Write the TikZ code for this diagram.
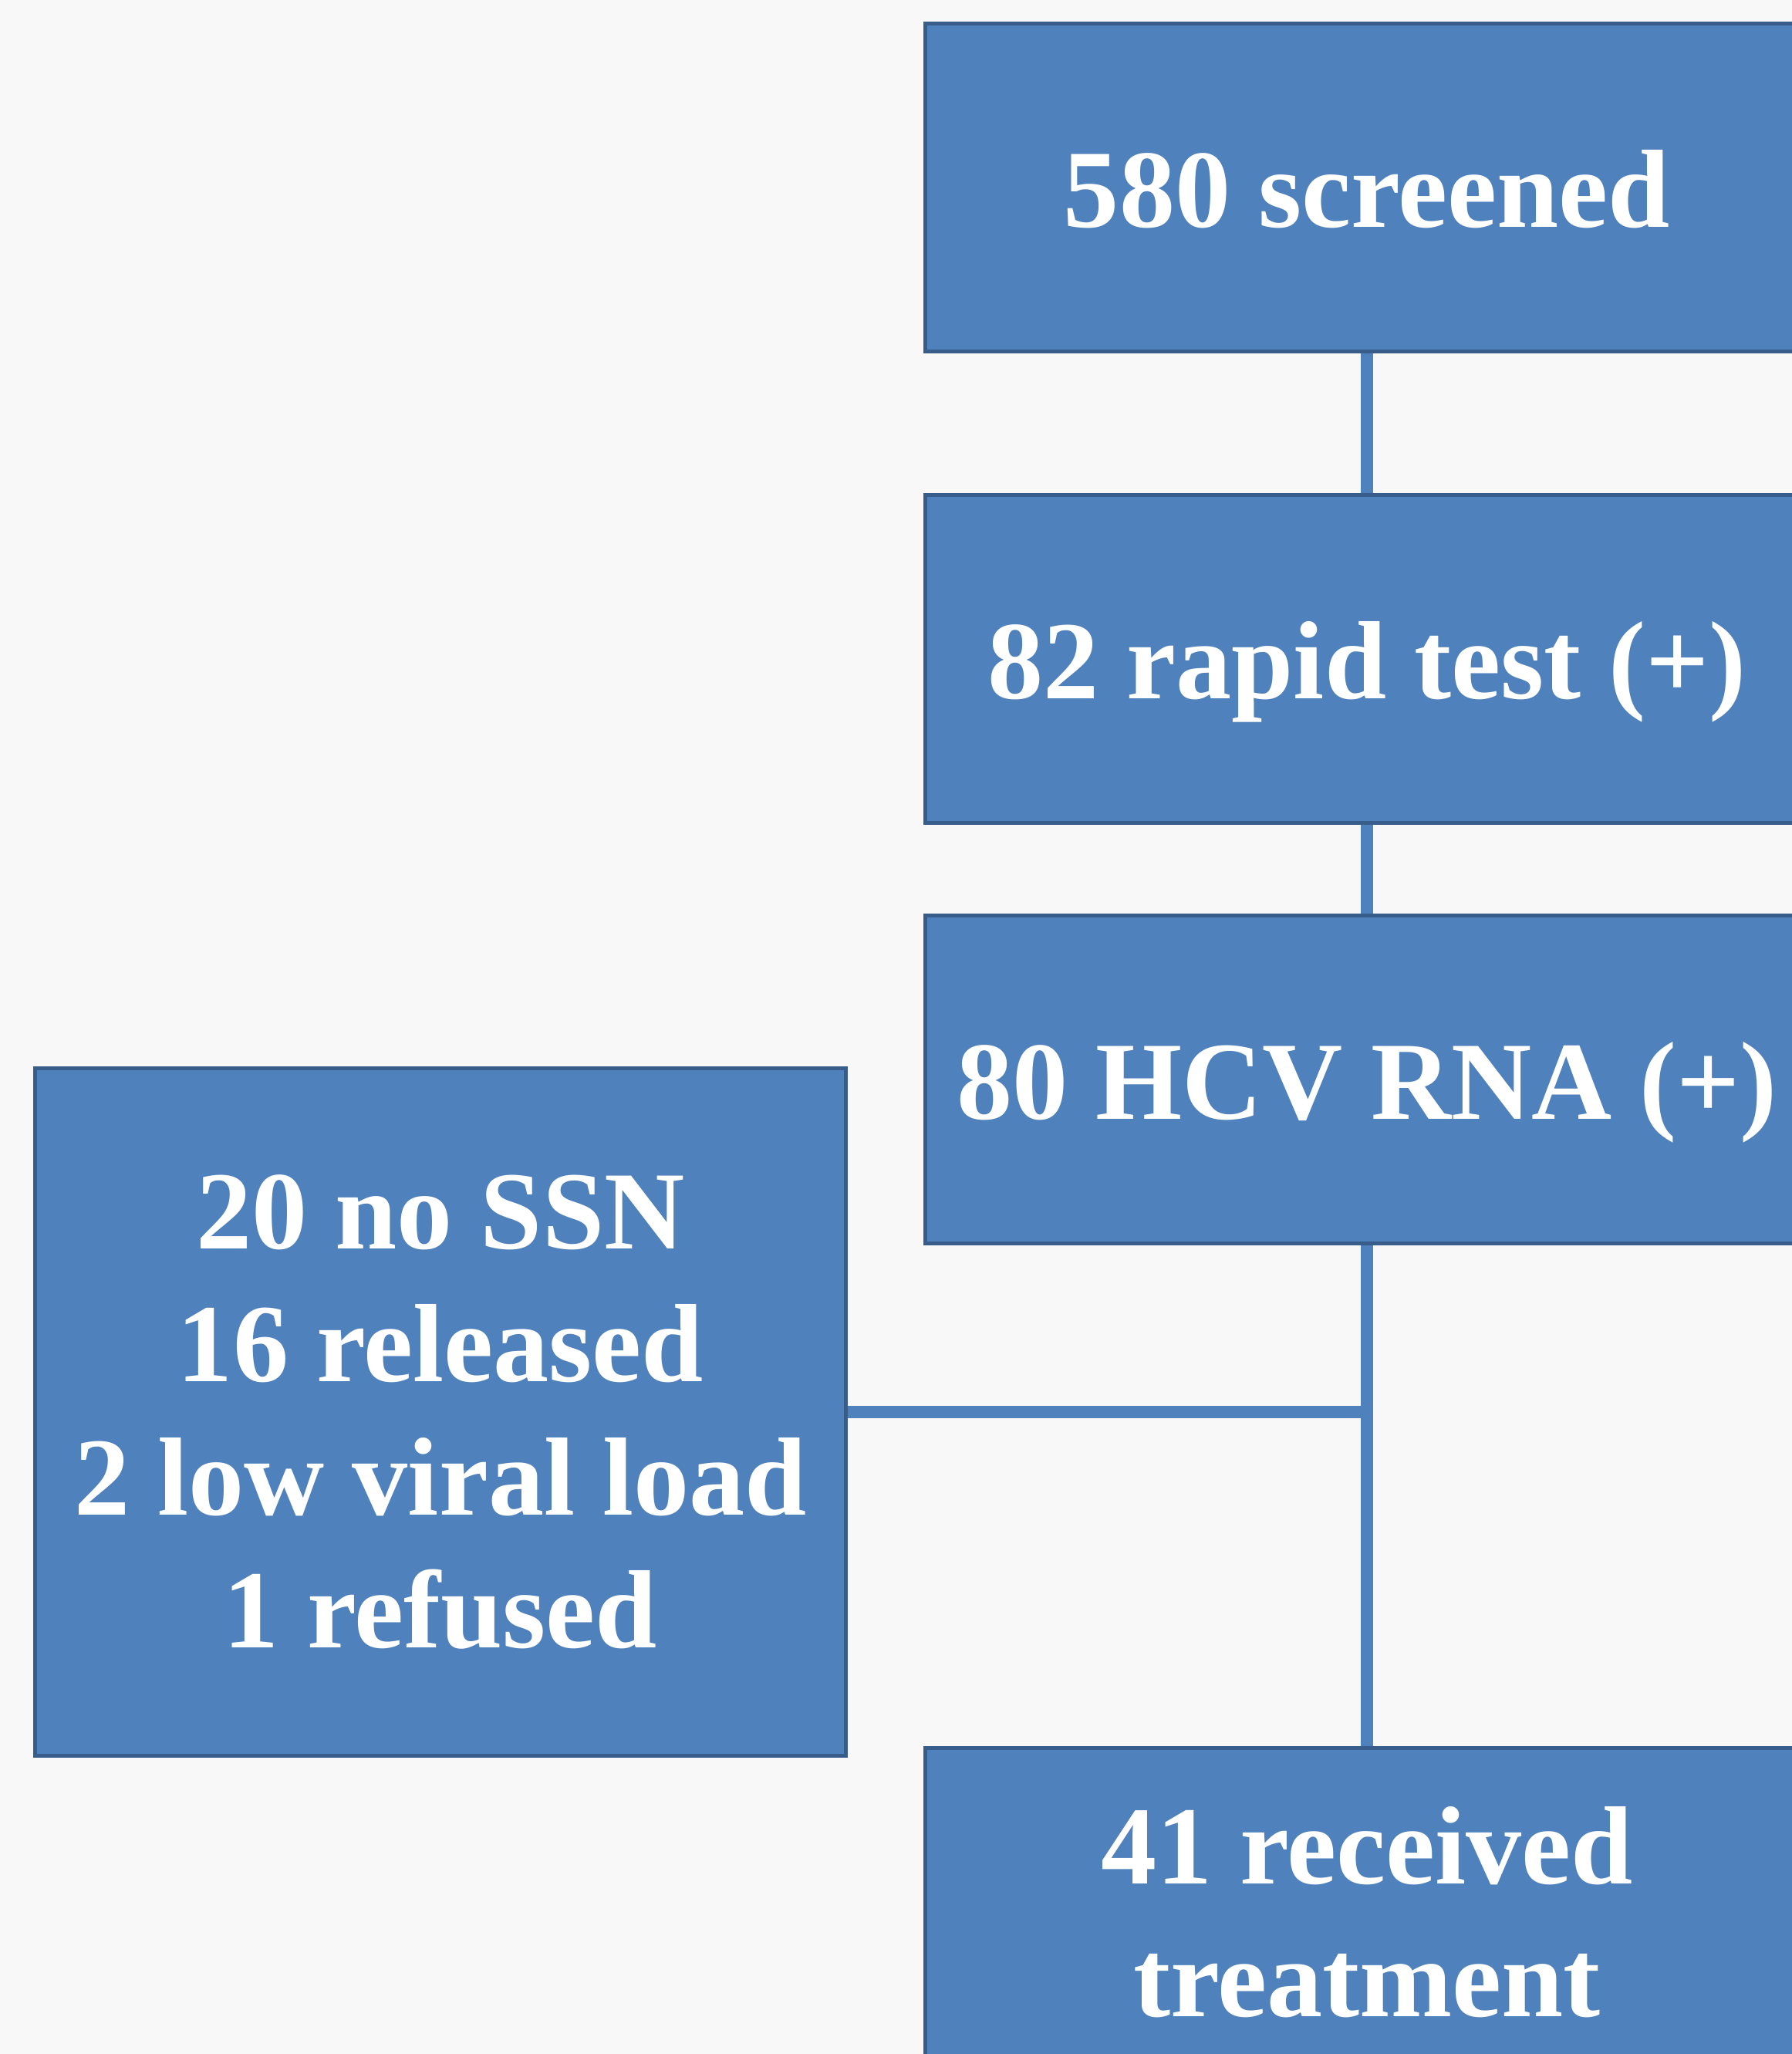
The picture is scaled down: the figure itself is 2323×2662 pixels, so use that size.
\documentclass[tikz,border=0pt]{standalone}
\usepackage{fontspec}
\setmainfont{Liberation Serif}
\definecolor{boxblue}{HTML}{4F81BD}
\definecolor{boxedge}{HTML}{385D8A}
\definecolor{pagebg}{HTML}{F8F8F8}
\begin{document}
\begin{tikzpicture}
                [x=0.01cm, y=-0.01cm,
                box/.style={rectangle, draw=boxedge, fill=boxblue, line width=1.4pt, text=white, font=\fontsize{41}{49}\selectfont\bfseries, align=center, minimum width=11.44cm, minimum height=4.24cm, inner sep=0pt},
                oneline/.style={box, text height=29pt, text depth=0pt},
                link/.style={draw=boxblue, line width=4.5pt}]
                \fill[pagebg] (0,0) rectangle (2323,2662);
                \useasboundingbox (0,0) rectangle (2323,2662);
                % Define nodes
                \node[oneline] (screened) at (1772,243) {580 screened};
                \node[oneline] (rapid) at (1772,854) {82 rapid test (+)};
                \node[oneline] (rna) at (1772,1399) {80 HCV RNA (+)};
                \node[box, minimum width=10.5cm, minimum height=8.9cm] (excluded) at (571,1830) {20 no SSN\\16 released\\2 low viral load\\1 refused};
                \node[box] (treated) at (1772,2478) {41 received\\treatment};
                % Define edges
                \draw[link] (screened) -- (rapid);
                \draw[link] (rapid) -- (rna);
                \draw[link] (rna) -- (treated);
                \draw[link] (excluded) -- (excluded -| rna);
            \end{tikzpicture}
\end{document}
